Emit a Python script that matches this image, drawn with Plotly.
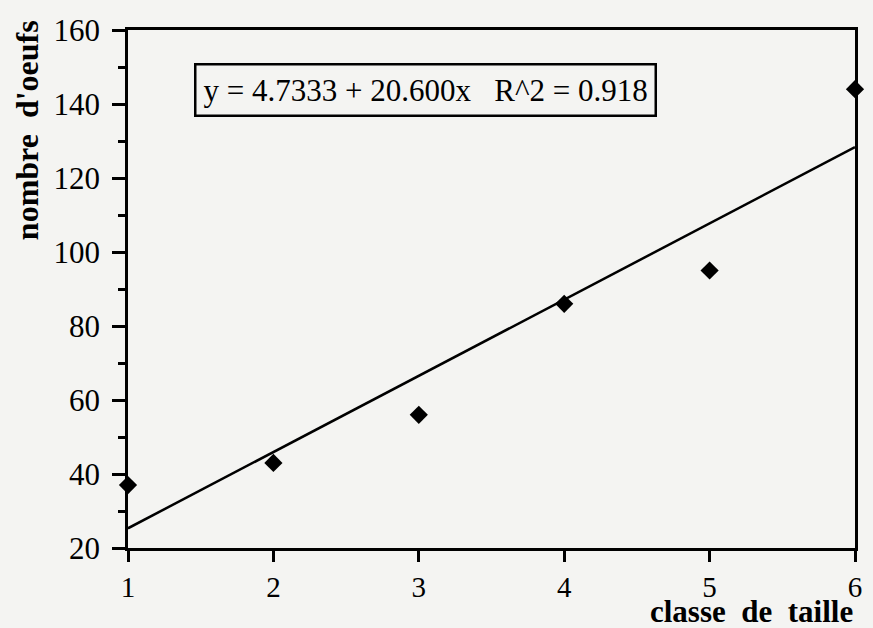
import plotly.graph_objects as go

classes = [1, 2, 3, 4, 5, 6]
oeufs = [37, 43, 56, 86, 95, 144]
intercept = 4.7333
slope = 20.600
r2 = 0.918
x_title = "classe&nbsp; de&nbsp; taille"
y_title = "nombre&nbsp; d'oeufs"

FONT = "Liberation Serif, Times New Roman, serif"
fit_x = [classes[0], classes[-1]]
fit_y = [intercept + slope * v for v in fit_x]

fig = go.Figure()
fig.add_trace(go.Scatter(x=fit_x, y=fit_y, mode="lines",
                         line=dict(color="black", width=2.5), showlegend=False,
                         cliponaxis=False))
fig.add_trace(go.Scatter(x=classes, y=oeufs, mode="markers",
                         marker=dict(symbol="diamond", size=14, color="black"),
                         showlegend=False, cliponaxis=False))

fig.update_layout(
    width=873, height=628,
    margin=dict(l=128, r=11, t=30, b=80),
    paper_bgcolor="#f4f4f2", plot_bgcolor="#f4f4f2",
    font=dict(family=FONT, size=31, color="black"),
    xaxis=dict(range=[1, 6], dtick=1, tick0=1, showgrid=False, zeroline=False,
               showline=True, linecolor="black", linewidth=2.5, mirror=True,
               ticks="outside", ticklen=11, tickwidth=2.5, tickcolor="black",
               ticklabelstandoff=0, tickfont=dict(size=29)),
    yaxis=dict(range=[20, 160], dtick=20, tick0=20, showgrid=False, zeroline=False,
               showline=True, linecolor="black", linewidth=2.5, mirror=True,
               ticks="outside", ticklen=13, tickwidth=3, tickcolor="black",
               ticklabelstandoff=6, tickfont=dict(size=31),
               minor=dict(dtick=10, ticks="outside", ticklen=7, tickwidth=2.5,
                          tickcolor="black", showgrid=False)),
    annotations=[
        dict(text=f"y = {intercept:.4f} + {slope:.3f}x&nbsp;&nbsp;&nbsp;R^2 = {r2:.3f}",
             xref="paper", yref="paper", x=0.409, y=0.884,
             xanchor="center", yanchor="middle", showarrow=False,
             font=dict(family=FONT, size=31, color="black"),
             bordercolor="black", borderwidth=2.5, borderpad=7),
        dict(text=f"<b>{x_title}</b>", xref="paper", yref="paper",
             x=1.0, y=-0.123, xanchor="right", yanchor="middle", showarrow=False,
             font=dict(family=FONT, size=31, color="black")),
        dict(text=f"<b>{y_title}</b>", xref="paper", yref="paper",
             x=-0.138, y=0.806, xanchor="center", yanchor="middle", textangle=-90,
             showarrow=False, font=dict(family=FONT, size=32, color="black")),
    ],
)

fig.write_html("out.html")
